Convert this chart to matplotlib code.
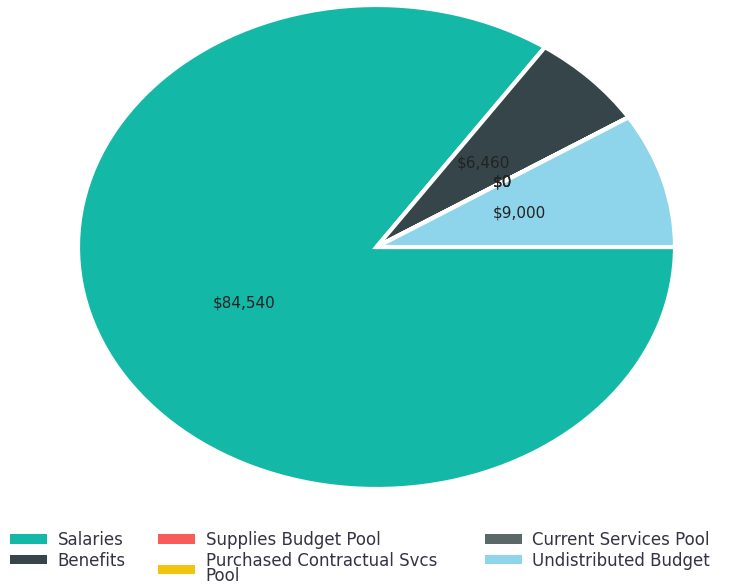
import matplotlib.pyplot as plt
from matplotlib.patches import Patch

# Budget breakdown
categories = ['Salaries', 'Benefits', 'Supplies Budget Pool',
              'Purchased Contractual Svcs\nPool', 'Current Services Pool',
              'Undistributed Budget']
amounts = [84540, 6460, 0, 0, 0, 9000]
colors = ['#14B8A6', '#36454A', '#F95B5B', '#F2C40F', '#5A6868', '#8ED4EB']

plt.rcParams['font.family'] = ['DejaVu Sans']

fig = plt.figure(figsize=(7.36, 5.85), dpi=100)
# pie is stretched into an ellipse in the reference
ax = fig.add_axes([78 / 736, 1 - 489 / 585, 597 / 736, 484 / 585])

total = sum(amounts)


def fmt(pct):
    val = pct * total / 100.0
    return f'${val:,.0f}'


wedges, texts, autotexts = ax.pie(
    amounts, colors=colors, startangle=0, counterclock=False,
    autopct=fmt, pctdistance=0.5,
    wedgeprops=dict(edgecolor='white', linewidth=3),
    textprops=dict(fontsize=11, color='#222222'))

ax.set_aspect('auto')
ax.set_xlim(-1, 1)
ax.set_ylim(-1, 1)
ax.axis('off')

# legend: three columns, each its own legend so the columns sit where they do in the reference
col_x = [10, 158, 485]
for i, x in enumerate(col_x):
    idx = [2 * i, 2 * i + 1]
    handles = [Patch(facecolor=colors[k], edgecolor='none') for k in idx]
    leg = fig.legend(handles, [categories[k] for k in idx], frameon=False,
                     loc='upper left', bbox_to_anchor=(x / 736, 1 - 531 / 585),
                     borderaxespad=0, borderpad=0, fontsize=12,
                     handlelength=2.2, handleheight=0.5, handletextpad=0.65,
                     labelspacing=0.15)
    for t in leg.get_texts():
        t.set_color('#333344')
        t.set_linespacing(0.85)

fig.savefig('out.png', dpi=100)
